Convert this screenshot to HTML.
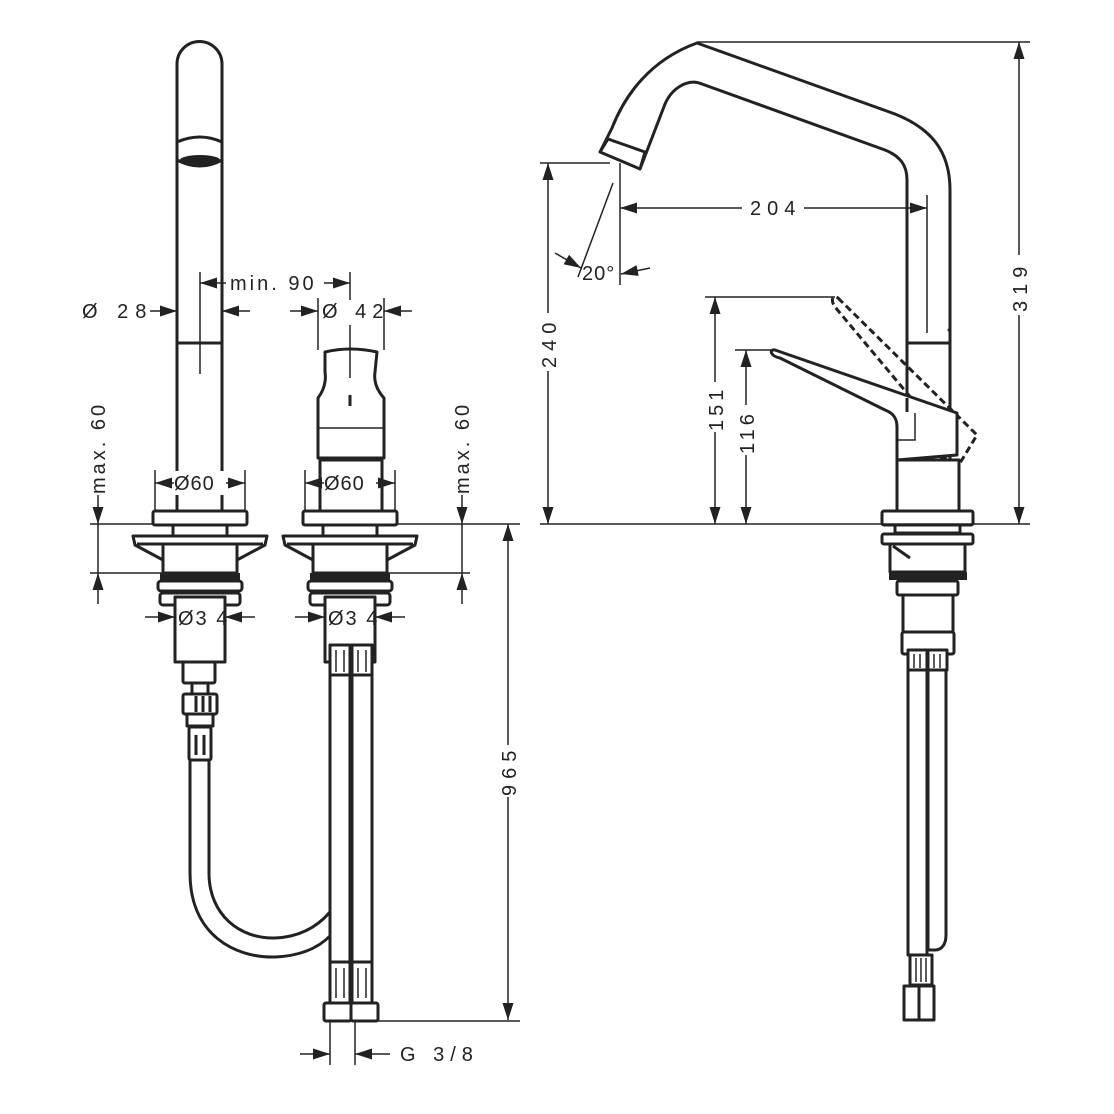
<!DOCTYPE html>
<html><head><meta charset="utf-8"><style>
html,body{margin:0;padding:0;background:#fff;}
svg{display:block;}
text{font-family:"Liberation Sans",sans-serif;font-size:20px;fill:#222;letter-spacing:3px;}
.o{fill:none;stroke:#222;stroke-width:3;stroke-linejoin:round;}
.w{fill:#fff;stroke:#222;stroke-width:3;stroke-linejoin:round;}
.d{fill:none;stroke:#222;stroke-width:1.5;}
.ds{fill:none;stroke:#222;stroke-width:3;stroke-dasharray:7 4;}
</style></head><body>
<svg width="1114" height="1114" viewBox="0 0 1114 1114" xmlns="http://www.w3.org/2000/svg">
<defs>
<marker id="a" markerWidth="17" markerHeight="11" refX="17" refY="5.5" orient="auto-start-reverse" markerUnits="userSpaceOnUse"><path d="M0,0L17,5.5L0,11z" fill="#222"/></marker>
<g id="base">
  <rect class="w" x="-47" y="511" width="94" height="14" rx="2"/>
  <rect class="w" x="-27" y="525" width="54" height="11"/>
  <path class="w" d="M-67,536 H67 L65,545 L37,560 V573 H-37 V560 L-65,545 Z"/>
  <line class="o" x1="-63" y1="544" x2="63" y2="544"/>
  <line class="o" x1="-37" y1="560" x2="-37" y2="545"/>
  <line class="o" x1="37" y1="560" x2="37" y2="545"/>
  <rect x="-40" y="573" width="80" height="7" fill="#222"/>
  <rect class="w" x="-42" y="581" width="84" height="10" rx="3"/>
  <rect class="w" x="-40" y="593" width="80" height="12" rx="3"/>
  <rect class="w" x="-25" y="597" width="50" height="65"/>
  <line class="d" x1="-55" y1="617" x2="-25" y2="617" marker-end="url(#a)"/>
  <line class="d" x1="55" y1="617" x2="25" y2="617" marker-end="url(#a)"/>
  <text x="-22" y="625" style="letter-spacing:2px">Ø3 4</text>
</g>
</defs>

<!-- LEFT SPOUT -->
<path class="o" d="M177,511 V64 A22.5,22.5 0 0 1 222,64 V511"/>
<path class="o" d="M177,142 Q200,132 222,142"/>
<ellipse cx="200" cy="160" rx="20" ry="5" fill="#222"/>
<path class="o" d="M177,160 Q200,172 222,160"/>
<line class="o" x1="177" y1="343" x2="222" y2="343"/>
<line class="d" x1="200" y1="272" x2="200" y2="374"/>
<use href="#base" x="200"/>
<!-- left hose -->
<rect class="w" x="183" y="662" width="32" height="21" rx="2"/>
<rect class="w" x="192" y="683" width="16" height="11"/>
<rect class="w" x="183" y="694" width="34" height="20" rx="2"/>
<line class="o" x1="196" y1="696" x2="196" y2="712"/><line class="o" x1="203" y1="696" x2="203" y2="712"/><line class="o" x1="210" y1="696" x2="210" y2="712"/>
<rect class="w" x="187" y="714" width="26" height="12"/>
<rect class="w" x="189" y="727" width="22" height="33" rx="2"/>
<line class="o" x1="196" y1="735" x2="196" y2="755"/><line class="o" x1="204" y1="735" x2="204" y2="755"/>
<path class="o" d="M190,760 V873 C190,935 235,958 275,957 C300,956 318,948 330,936"/>
<path class="o" d="M209,760 V873 C209,915 240,939 275,938 C300,937 318,926 330,912"/>

<!-- RIGHT VALVE -->
<path class="w" d="M325,352 Q350,346 377,352 L375,372 Q373,386 384,398 V458 H318 V398 Q327,386 325,372 Z"/>
<line class="d" x1="318" y1="428" x2="384" y2="428"/>
<line class="o" x1="350" y1="395" x2="350" y2="406"/>
<line class="d" x1="350" y1="325" x2="350" y2="378"/>
<rect class="w" x="320" y="460" width="62" height="51"/>
<use href="#base" x="350"/>
<!-- pipes -->
<rect class="w" x="330" y="645" width="20" height="358"/>
<rect class="w" x="352" y="645" width="20" height="358"/>
<rect class="w" x="330" y="645" width="20" height="30"/><rect class="w" x="352" y="645" width="20" height="30"/>
<rect class="w" x="330" y="962" width="20" height="41"/><rect class="w" x="352" y="962" width="20" height="41"/>
<g class="d"><line x1="336" y1="650" x2="336" y2="672"/><line x1="344" y1="650" x2="344" y2="672"/><line x1="358" y1="650" x2="358" y2="672"/><line x1="366" y1="650" x2="366" y2="672"/>
<line x1="336" y1="968" x2="336" y2="998"/><line x1="344" y1="968" x2="344" y2="998"/><line x1="358" y1="968" x2="358" y2="998"/><line x1="366" y1="968" x2="366" y2="998"/></g>
<rect class="w" x="324" y="1003" width="27" height="18" rx="2"/>
<rect class="w" x="351" y="1003" width="27" height="18" rx="2"/>

<!-- LEFT DIMENSIONS -->
<line class="d" x1="200" y1="283" x2="350" y2="283" marker-start="url(#a)" marker-end="url(#a)"/>
<line class="d" x1="350" y1="272" x2="350" y2="300"/>
<rect x="226" y="270" width="98" height="24" fill="#fff"/>
<text x="230" y="290">min. 90</text>
<line class="d" x1="150" y1="311" x2="177" y2="311" marker-end="url(#a)"/>
<line class="d" x1="250" y1="311" x2="222" y2="311" marker-end="url(#a)"/>
<text x="82" y="318" style="letter-spacing:7px">Ø 28</text>
<line class="d" x1="290" y1="311" x2="318" y2="311" marker-end="url(#a)"/>
<line class="d" x1="412" y1="311" x2="384" y2="311" marker-end="url(#a)"/>
<line class="d" x1="318" y1="298" x2="318" y2="350"/><line class="d" x1="384" y1="298" x2="384" y2="350"/>
<text x="322" y="318" style="letter-spacing:6px">Ø 42</text>
<!-- Ø60 -->
<line class="d" x1="155" y1="470" x2="155" y2="511"/><line class="d" x1="245" y1="470" x2="245" y2="511"/>
<line class="d" x1="155" y1="483" x2="245" y2="483" marker-start="url(#a)" marker-end="url(#a)"/>
<rect x="174" y="471" width="52" height="24" fill="#fff"/>
<text x="174" y="490" style="letter-spacing:1px">Ø60</text>
<line class="d" x1="305" y1="470" x2="305" y2="511"/><line class="d" x1="395" y1="470" x2="395" y2="511"/>
<line class="d" x1="305" y1="483" x2="395" y2="483" marker-start="url(#a)" marker-end="url(#a)"/>
<rect x="324" y="471" width="52" height="24" fill="#fff"/>
<text x="324" y="490" style="letter-spacing:1px">Ø60</text>
<!-- max 60 -->
<line class="d" x1="90" y1="524" x2="153" y2="524"/>
<line class="d" x1="90" y1="573" x2="163" y2="573"/>
<line class="d" x1="98" y1="495" x2="98" y2="524" marker-end="url(#a)"/>
<line class="d" x1="98" y1="604" x2="98" y2="573" marker-end="url(#a)"/>
<line class="d" x1="98" y1="524" x2="98" y2="573"/>
<text transform="translate(105,494) rotate(-90)">max. 60</text>
<line class="d" x1="395" y1="524" x2="520" y2="524"/>
<line class="d" x1="387" y1="573" x2="470" y2="573"/>
<line class="d" x1="462" y1="495" x2="462" y2="524" marker-end="url(#a)"/>
<line class="d" x1="462" y1="604" x2="462" y2="573" marker-end="url(#a)"/>
<line class="d" x1="462" y1="524" x2="462" y2="573"/>
<text transform="translate(469,494) rotate(-90)">max. 60</text>
<!-- 965 -->
<line class="d" x1="508" y1="524" x2="508" y2="1020" marker-start="url(#a)" marker-end="url(#a)"/>
<line class="d" x1="378" y1="1021" x2="520" y2="1021"/>
<rect x="496" y="745" width="24" height="52" fill="#fff"/>
<text transform="translate(516,796) rotate(-90)" style="letter-spacing:6px">965</text>
<!-- G3/8 -->
<line class="d" x1="330" y1="1021" x2="330" y2="1065"/><line class="d" x1="355" y1="1021" x2="355" y2="1065"/>
<line class="d" x1="300" y1="1054" x2="330" y2="1054" marker-end="url(#a)"/>
<line class="d" x1="390" y1="1054" x2="355" y2="1054" marker-end="url(#a)"/>
<text x="400" y="1061" style="letter-spacing:6px">G 3/8</text>

<!-- RIGHT VIEW SPOUT -->
<path class="o" d="M600,152 L612,128 C625,95 650,60 697,43 L895,114 C930,128 950,150 950,190 V463"/>
<path class="o" d="M640,169 L665,104 C672,88 688,78 702,84 L885,150 C900,156 907,165 907,180 V398"/>
<path class="w" d="M600,152 L608,139 L645,152 L640,169 Z"/>
<line class="o" x1="907" y1="343" x2="950" y2="343"/>
<line class="d" x1="927" y1="195" x2="927" y2="333"/>
<circle cx="949" cy="330" r="1.5" fill="#222"/>
<!-- lever dashed -->
<path class="ds" d="M838,298 L977,435 L960,463 L902,445 L917,405 L835,307 C830,300 833,294 838,298 Z"/>
<path class="ds" d="M917,405 L935,420 L943,430"/>
<!-- lever solid -->
<path class="w" d="M775,350 L957,413 V455 L897,460 V427 C897,418 893,413 885,410 L780,358 C770,356 769,349 775,350 Z"/>
<line class="o" x1="907" y1="398" x2="907" y2="412"/>
<path class="d" d="M915,413 V440 H897"/>
<rect class="w" x="897" y="460" width="62" height="51"/>
<!-- right base -->
<rect class="w" x="882" y="511" width="91" height="14" rx="2"/>
<rect class="w" x="895" y="525" width="65" height="8"/>
<rect class="w" x="882" y="534" width="91" height="10" rx="2"/>
<rect class="w" x="890" y="544" width="75" height="28"/>
<path class="o" d="M893,546 L910,558"/>
<rect x="889" y="572" width="78" height="8" fill="#222"/>
<rect class="w" x="897" y="581" width="61" height="14" rx="2"/>
<rect class="w" x="918" y="596" width="14" height="9"/>
<rect class="w" x="903" y="595" width="50" height="37"/>
<rect class="w" x="902" y="632" width="52" height="22" rx="2"/>
<rect class="w" x="908" y="650" width="19" height="20"/><rect class="w" x="928" y="650" width="19" height="20"/>
<path class="w" d="M908,670 V955 H927 V670 Z"/>
<path class="w" d="M928,670 V950 H935 C942,950 946,944 946,935 V670 Z"/>
<rect class="w" x="910" y="955" width="22" height="30"/>
<g class="d"><line x1="916" y1="958" x2="916" y2="982"/><line x1="921" y1="958" x2="921" y2="982"/><line x1="926" y1="958" x2="926" y2="982"/>
<line x1="914" y1="654" x2="914" y2="668"/><line x1="920" y1="654" x2="920" y2="668"/><line x1="934" y1="654" x2="934" y2="668"/><line x1="940" y1="654" x2="940" y2="668"/></g>
<rect class="w" x="904" y="986" width="15" height="34"/>
<rect class="w" x="919" y="986" width="15" height="34"/>

<!-- RIGHT VIEW DIMENSIONS -->
<line class="d" x1="540" y1="524" x2="1030" y2="524"/>
<line class="d" x1="697" y1="42" x2="1030" y2="42"/>
<line class="d" x1="1019" y1="42" x2="1019" y2="524" marker-start="url(#a)" marker-end="url(#a)"/>
<rect x="1007" y="255" width="24" height="60" fill="#fff"/>
<text transform="translate(1027,312) rotate(-90)" style="letter-spacing:6px">319</text>
<line class="d" x1="540" y1="163" x2="610" y2="163"/>
<line class="d" x1="548" y1="163" x2="548" y2="524" marker-start="url(#a)" marker-end="url(#a)"/>
<rect x="536" y="313" width="24" height="58" fill="#fff"/>
<text transform="translate(556,368) rotate(-90)" style="letter-spacing:6px">240</text>
<line class="d" x1="620" y1="163" x2="620" y2="285"/>
<line class="d" x1="620" y1="208" x2="927" y2="208" marker-start="url(#a)" marker-end="url(#a)"/>
<rect x="742" y="195" width="62" height="24" fill="#fff"/>
<text x="750" y="215" style="letter-spacing:6px">204</text>
<line class="d" x1="613" y1="183" x2="578" y2="277"/>
<line class="d" x1="555" y1="253" x2="581" y2="268" marker-end="url(#a)"/>
<line class="d" x1="650" y1="268" x2="621" y2="274" marker-end="url(#a)"/>
<text x="582" y="280" style="letter-spacing:1px">20°</text>
<line class="d" x1="705" y1="297" x2="835" y2="297"/>
<line class="d" x1="715" y1="297" x2="715" y2="524" marker-start="url(#a)" marker-end="url(#a)"/>
<rect x="703" y="382" width="24" height="50" fill="#fff"/>
<text transform="translate(723,431) rotate(-90)" style="letter-spacing:4px">151</text>
<line class="d" x1="735" y1="350" x2="772" y2="350"/>
<line class="d" x1="746" y1="350" x2="746" y2="524" marker-start="url(#a)" marker-end="url(#a)"/>
<rect x="734" y="405" width="24" height="50" fill="#fff"/>
<text transform="translate(754,454) rotate(-90)" style="letter-spacing:4px">116</text>
</svg>
</body></html>
